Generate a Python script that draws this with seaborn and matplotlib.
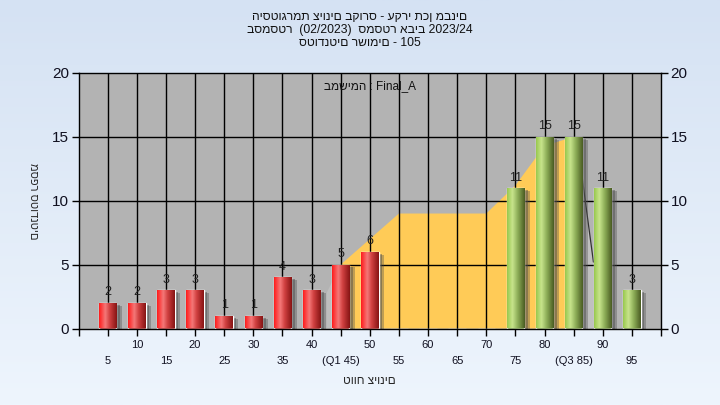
import numpy as np
import pandas as pd
import matplotlib
matplotlib.use("Agg")
import matplotlib.pyplot as plt
import matplotlib.patheffects as pe
from matplotlib.colors import LinearSegmentedColormap
import seaborn as sns

# data
grades = [5, 10, 15, 20, 25, 30, 35, 40, 45, 50, 55, 60, 65, 70, 75, 80, 85, 90, 95]
counts = [2, 2, 3, 3, 1, 1, 4, 3, 5, 6, 0, 0, 0, 0, 11, 15, 15, 11, 3]
tick_labels = ["5", "10", "15", "20", "25", "30", "35", "40", "(Q1 45)", "50",
               "55", "60", "65", "70", "75", "80", "(Q3 85)", "90", "95"]
area_x = [45, 45, 55, 70, 75, 80, 85, 86.5, 86.5]
area_y = [0, 5, 9, 9, 11.2, 14.3, 15, 12.5, 0]

title = "היסטוגרמת ציונים בקורס - עקרי תכן מבנים\nבסמסטר  (02/2023)  סמסטר אביב 2023/24\nסטודנטים רשומים - 105"
legend_txt = "במשימה : Final_A"
ylab = "מספר סטודנטים"
xlab = "טווח ציונים"

df = pd.DataFrame({"grade": grades, "count": counts})
df["group"] = np.where(df["grade"] <= 50, "low", "high")

sns.set_theme(style="white")
plt.rcParams["font.family"] = ["Liberation Sans", "DejaVu Sans"]

fig = plt.figure(figsize=(7.2, 4.05), dpi=100)

# figure background gradient
bg = fig.add_axes([0, 0, 1, 1], zorder=-10)
grad = np.linspace(0, 1, 256).reshape(-1, 1)
bg_cmap = LinearSegmentedColormap.from_list("bg", ["#d5e2f3", "#eef5fd"])
bg.imshow(grad, aspect="auto", cmap=bg_cmap, extent=[0, 1, 0, 1], origin="upper")
bg.axis("off")

ax = fig.add_axes([78.6 / 720, 1 - 328.5 / 405, (661 - 78.6) / 720, (328.5 - 73) / 405])
ax.set_facecolor("#b3b3b3")

# yellow area series
ax.fill(area_x, area_y, color="#ffcb57", lw=0, zorder=1)
ax.fill([42.6, 42.6, 45, 45], [0, 2.8, 5, 0], color="#bebebe", lw=0, zorder=1)
ax.fill([86.5, 88.4, 88.4, 86.8], [13, 5.2, 0, 0], color="#c0c0c0", lw=0, zorder=1)
ax.plot([86.3, 88.4], [12.4, 5.2], color="#333333", lw=0.9, zorder=1.5)

# grid
for g in grades:
    ax.axvline(g, color="black", lw=1, zorder=1.2)
for v in [5, 10, 15]:
    ax.axhline(v, color="black", lw=1, zorder=1.2)

sns.barplot(data=df, x="grade", y="count", hue="group", native_scale=True,
            dodge=False, width=0.6, palette={"low": "#e02020", "high": "#9cc855"},
            legend=False, ax=ax, zorder=2)

red = LinearSegmentedColormap.from_list("r", [(0, "#ff1c1c"), (0.35, "#f47878"),
                                              (0.6, "#d04040"), (1, "#861414")])
green = LinearSegmentedColormap.from_list("g", [(0, "#98c84e"), (0.3, "#c8e48c"),
                                                (0.6, "#8eae58"), (1, "#4a5c22")])
hgrad = np.linspace(0, 1, 64).reshape(1, -1)
for cont in ax.containers:
    for p in cont:
        if p.get_height() <= 0:
            continue
        x0, y0 = p.get_x(), p.get_y()
        w, h = p.get_width(), p.get_height()
        cm = red if x0 < 60 else green
        p.set_path_effects([pe.SimplePatchShadow(offset=(4, -2), shadow_rgbFace="#4a4a4a", alpha=0.35),
                            pe.SimplePatchShadow(offset=(2.5, -1.5), shadow_rgbFace="#4a4a4a", alpha=0.45),
                            pe.Normal()])
        im = ax.imshow(hgrad, cmap=cm, aspect="auto", extent=[x0, x0 + w, y0, y0 + h],
                       zorder=2.5, interpolation="bilinear")
        im.set_clip_path(p)

for g, c in zip(grades, counts):
    if c > 0:
        ax.text(g, c + 0.35, str(c), ha="center", va="bottom", fontsize=9, color="#202020", zorder=4)

ax.set_xlim(0, 100)
ax.set_ylim(0, 20)
ax.set_yticks([0, 5, 10, 15, 20])
ax.set_yticklabels(["0", "5", "10", "15", "20"])
xt = [0] + grades + [100]
xl = [""]
for i, lab in enumerate(tick_labels):
    xl.append(lab if i % 2 == 1 else "\n" + lab)
xl.append("")
ax.set_xticks(xt)
ax.set_xticklabels(xl, fontsize=8, linespacing=1.75)
ax.tick_params(axis="y", labelsize=11, right=True, labelright=True, left=True,
               length=5, width=1, color="black", labelcolor="#101020", direction="out", pad=2)
ax.tick_params(axis="x", bottom=True, length=5, width=1, color="black", labelcolor="#101020",
               direction="out", pad=3)
for s in ax.spines.values():
    s.set_color("black")
    s.set_linewidth(1)
    s.set_visible(True)
ax.set_xlabel("")
ax.set_ylabel("")

fig.text(0.5, 1 - 11 / 405, title, ha="center", va="top", fontsize=8.7, linespacing=1.12, color="#111111")
ax.text(0.5, 0.949, legend_txt, transform=ax.transAxes, ha="center", va="center", fontsize=8.5, color="#111111")
fig.text(33 / 720, 1 - 201 / 405, ylab, rotation=270, ha="center", va="center", fontsize=8)
fig.text(369 / 720, 1 - 381 / 405, xlab, ha="center", va="center", fontsize=8.5)

fig.savefig("out.png", dpi=100)
